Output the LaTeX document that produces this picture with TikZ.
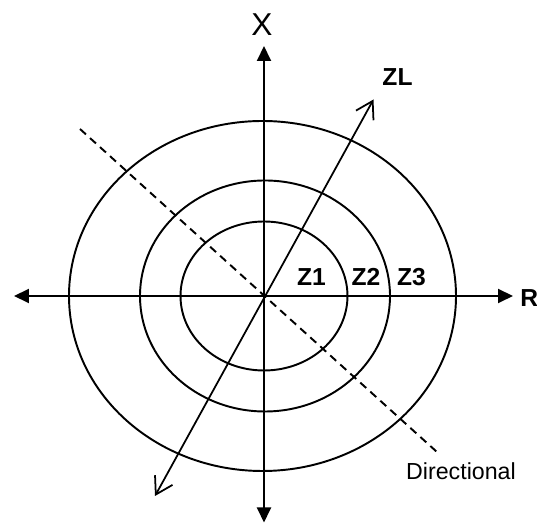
\documentclass[tikz,border=0pt]{standalone}
\usepackage{fontspec}
\setmainfont{Liberation Sans}
\usetikzlibrary{arrows.meta}
\begin{document}
\begin{tikzpicture}[scale=1]
    % Styles
    \tikzset{zone line/.style={line width=1.1pt},
             axis line/.style={line width=1.1pt,-{Triangle[length=0.3cm,width=0.28cm]}},
             barb tip/.style={line width=1pt,{Straight Barb[length=0.33cm,width=0.4cm]}-{Straight Barb[length=0.33cm,width=0.4cm]}},
             zone label/.style={font=\fontsize{14}{16}\selectfont\bfseries,inner sep=0pt}}
    \useasboundingbox (-5.28,-4.54) rectangle (5.46,5.92);

    % --- Zones (ellipses around the origin) ---
    \coordinate (origin) at (0,0);
    \draw[zone line] (0,0) ellipse [x radius=1.67, y radius=1.49];
    \draw[zone line] (0.02,0) ellipse [x radius=2.5, y radius=2.31];
    \draw[zone line] (-0.03,0) ellipse [x radius=3.87, y radius=3.5];

    % --- Axes ---
    \coordinate (r_left) at (-5.0,0);
    \coordinate (r_right) at (4.98,0);
    \coordinate (x_top) at (0,5.0);
    \coordinate (x_bottom) at (0,-4.53);
    \draw[axis line] (origin) -- (r_right);
    \draw[axis line] (origin) -- (r_left);
    \draw[axis line] (origin) -- (x_top);
    \draw[axis line] (origin) -- (x_bottom);
    \node[font=\fontsize{18}{20}\selectfont, inner sep=0pt] (x_label) at (-0.04,5.42) {X};
    \node[zone label, anchor=west] (r_label) at (5.12,-0.04) {R};

    % --- Line impedance ZL ---
    \coordinate (zl_low) at (-2.18,-4.0);
    \coordinate (zl_high) at (2.19,3.93);
    \draw[barb tip] (zl_low) -- (zl_high);
    \node[zone label] (zl_label) at (2.67,4.38) {ZL};

    % --- Directional line (dashed) ---
    \coordinate (dir_start) at (-3.68,3.34);
    \coordinate (dir_end) at (3.47,-3.13);
    \draw[line width=1.1pt, dash pattern=on 0.16cm off 0.11cm] (dir_start) -- (dir_end);
    \node[font=\fontsize{13.2}{15}\selectfont, inner sep=0pt] (dir_label) at (3.94,-3.51) {Directional};

    % --- Zone labels ---
    \node[zone label] (z1) at (0.95,0.38) {Z1};
    \node[zone label] (z2) at (2.04,0.38) {Z2};
    \node[zone label] (z3) at (2.95,0.38) {Z3};

  \end{tikzpicture}
\end{document}
